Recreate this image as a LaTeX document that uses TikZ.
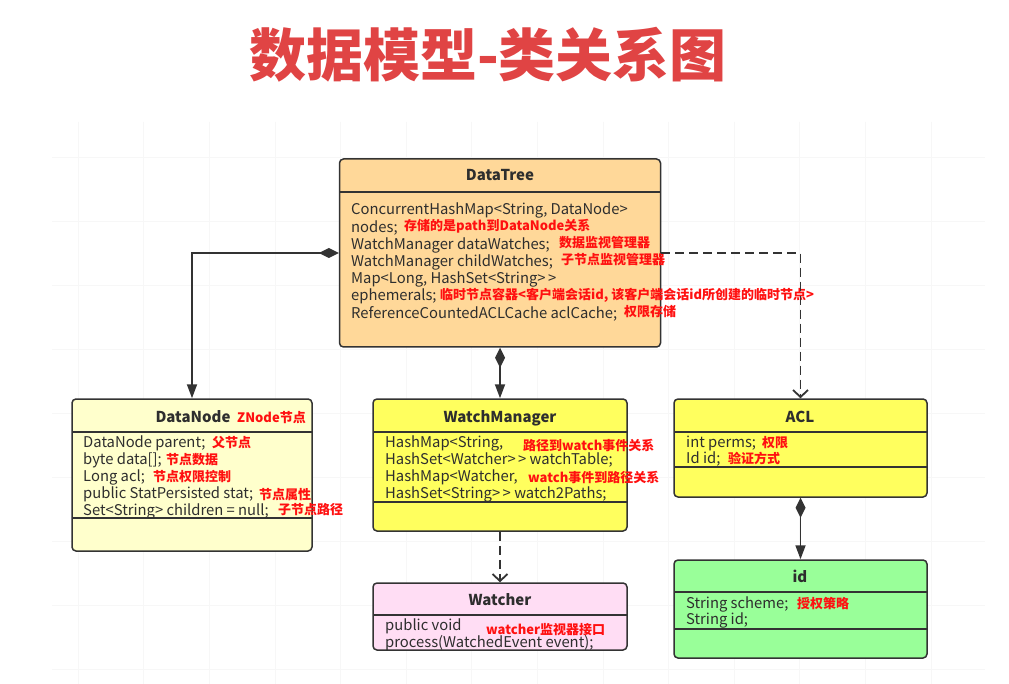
\documentclass[tikz,border=0pt]{standalone}
\usepackage{fontspec}
\setmainfont{Noto Sans CJK SC}[Ligatures=TeXOff]
\usetikzlibrary{arrows.meta}

\definecolor{linec}{HTML}{333333}
\definecolor{textc}{HTML}{2E2E2E}
\definecolor{notec}{HTML}{FF1010}
\definecolor{titlec}{HTML}{E04444}
\definecolor{gridc}{HTML}{F7F7F7}
\definecolor{treec}{HTML}{FFD899}
\definecolor{nodec}{HTML}{FFFFCC}
\definecolor{yellowc}{HTML}{FFFF5E}
\definecolor{pinkc}{HTML}{FFDDF4}
\definecolor{greenc}{HTML}{99FF99}

\begin{document}
\begin{tikzpicture}[x=1pt, y=-1pt,
    umlbox/.style={draw=linec, line width=1.5pt, rounded corners=4pt, inner sep=0pt},
    divider/.style={draw=linec, line width=1.5pt},
    head/.style={anchor=base, inner sep=0pt, text=textc, font=\bfseries\fontsize{15}{17}\selectfont},
    field/.style={anchor=base west, inner sep=0pt, text=textc, font=\fontsize{14.8}{17}\selectfont},
    note/.style={anchor=base west, inner sep=0pt, text=notec, font=\bfseries\fontsize{13}{15}\selectfont},
    comp/.style={draw=linec, line width=1.8pt, {Diamond[length=20pt,width=10pt]}-{Triangle[length=14pt,width=10pt]}},
    dep/.style={draw=linec, line width=1.8pt, dash pattern=on 9pt off 5pt, -{Straight Barb[length=7pt,width=15pt]}},
  ]

  % Page and faint grid
  \useasboundingbox[fill=white] (0,0) rectangle (1009,684);
  \foreach \gx in {78,143.6,...,990} \draw[gridc, line width=0.6pt] (\gx,122) -- (\gx,684);
  \foreach \gy in {157,221,...,684} \draw[gridc, line width=0.6pt] (52,\gy) -- (985,\gy);

  % Title
  \node[text=titlec, font=\bfseries\fontsize{57}{60}\selectfont] (title) at (488,55) {数据模型-类关系图};

  % Class boxes
  \node[umlbox, fill=treec, minimum width=321pt, minimum height=188pt] (tree) at (500,253) {};
  \node[umlbox, fill=nodec, minimum width=240pt, minimum height=152pt] (dnode) at (192,475) {};
  \node[umlbox, fill=yellowc, minimum width=254pt, minimum height=132pt] (wmgr) at (500,465) {};
  \node[umlbox, fill=yellowc, minimum width=253pt, minimum height=98pt] (acl) at (800.5,448) {};
  \node[umlbox, fill=pinkc, minimum width=254pt, minimum height=67pt] (watcher) at (500,616.5) {};
  \node[umlbox, fill=greenc, minimum width=253pt, minimum height=98pt] (idbox) at (800.5,609) {};

  % Compartment lines
  \foreach \xa/\xb/\y in {340/660/192, 72/312/432, 72/312/518, 373/627/432, 373/627/502,
                          674/927/432, 674/927/467, 373/627/615, 674/927/592, 674/927/629}
    \draw[divider] (\xa,\y) -- (\xb,\y);

  % Class names
  \node[head] (htree) at (500,181) {DataTree};
  \node[head] (hdnode) at (193,422) {DataNode};
  \node[head] (hwmgr) at (500,422) {WatchManager};
  \node[head] (hacl) at (800,422) {ACL};
  \node[head] (hwatcher) at (500,605) {Watcher};
  \node[head] (hid) at (800,582) {id};

  % Fields
  \foreach \t [count=\i] in {{ConcurrentHashMap<String, DataNode>}, nodes;, WatchManager dataWatches;,
      WatchManager childWatches;, {Map<Long, HashSet<String>\,>}, ephemerals;, ReferenceCountedACLCache aclCache;}
    \node[field] (ftree\i) at (351,197.8+17.2*\i) {\t};
  \foreach \t [count=\i] in {DataNode parent;, byte data[];, Long acl;, public StatPersisted stat;,
      Set<String> children = null;}
    \node[field] (fdnode\i) at (83,430+17*\i) {\t};
  \foreach \t [count=\i] in {{HashMap<String,}, HashSet<Watcher>\,> watchTable;, {HashMap<Watcher,},
      HashSet<String>\,> watch2Paths;}
    \node[field] (fwmgr\i) at (385,430+17*\i) {\t};
  \node[field] (facl1) at (686,447) {int perms;};
  \node[field] (facl2) at (686,463) {Id id;};
  \node[field] (fwatcher1) at (385,630) {public void};
  \node[field] (fwatcher2) at (385,647) {process(WatchedEvent event);};
  \node[field] (fid1) at (686,608) {String scheme;};
  \node[field] (fid2) at (686,624) {String id;};

  % Red remarks
  \node[note] (n1) at (404,231) {存储的是path到DataNode关系};
  \node[note] (n2) at (559,248) {数据监视管理器};
  \node[note] (n3) at (561,265) {子节点监视管理器};
  \node[note] (n4) at (440,300) {临时节点容器<客户端会话id, 该客户端会话id所创建的临时节点>};
  \node[note] (n5) at (624,317) {权限存储};
  \node[note] (n6) at (237,422) {ZNode节点};
  \node[note] (n7) at (212,447) {父节点};
  \node[note] (n8) at (166,464) {节点数据};
  \node[note] (n9) at (153,481) {节点权限控制};
  \node[note] (n10) at (259,499) {节点属性};
  \node[note] (n11) at (278,514) {子节点路径};
  \node[note] (n12) at (523,450) {路径到watch事件关系};
  \node[note] (n13) at (528,482) {watch事件到路径关系};
  \node[note] (n14) at (762,447) {权限};
  \node[note] (n15) at (728,463) {验证方式};
  \node[note] (n16) at (486,634) {watcher监视器接口};
  \node[note] (n17) at (797,608) {授权策略};

  % Relations
  \draw[comp] (tree.west) -| (dnode.north);
  \draw[comp] (tree.south) -- (wmgr.north);
  \draw[dep] (tree.east) -| (acl.north);
  \draw[dep] (wmgr.south) -- (watcher.north);
  \draw[comp] (acl.south) -- (idbox.north);

\end{tikzpicture}
\end{document}
